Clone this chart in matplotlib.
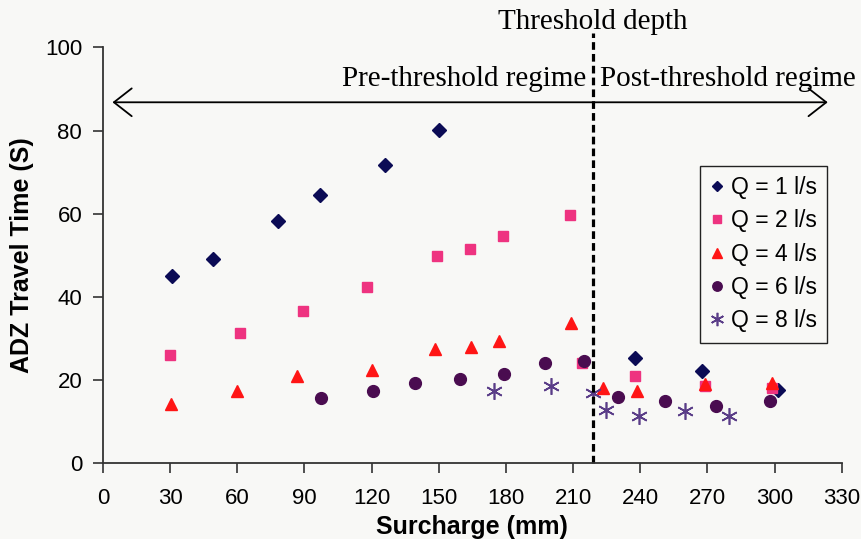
import matplotlib
matplotlib.use("Agg")
import matplotlib.pyplot as plt

# data
q1_x = [31, 49, 78, 97, 126, 150, 237.5, 267.5, 301.5]
q1_y = [45.1, 49.2, 58.2, 64.6, 71.7, 80.2, 25.3, 22.1, 17.5]

q2_x = [30, 61, 89.5, 118, 149, 164, 178.5, 208.5, 214, 237.5, 269, 299]
q2_y = [26.0, 31.2, 36.6, 42.3, 49.7, 51.6, 54.6, 59.6, 24.0, 20.9, 18.6, 18.1]

q4_x = [30.5, 60, 86.5, 120, 148.5, 164.5, 177, 209, 223.5, 238.5, 269, 299]
q4_y = [14.3, 17.4, 20.9, 22.3, 27.4, 27.9, 29.4, 33.7, 18.1, 17.3, 18.9, 19.3]

q6_x = [97.5, 120.5, 139.5, 159.5, 179, 197.5, 215, 230, 251, 274, 298]
q6_y = [15.7, 17.3, 19.3, 20.3, 21.5, 24.0, 24.5, 15.9, 14.8, 13.8, 15.0]

q8_x = [174.5, 200, 219, 224.5, 239.5, 260, 279.5]
q8_y = [17.3, 18.5, 16.8, 12.7, 11.2, 12.4, 11.2]

threshold = 219


def main():
    fig = plt.figure(figsize=(8.61, 5.39), dpi=100, facecolor="#f8f8f6")
    ax = fig.add_axes([0.1196, 0.141, 0.858, 0.771])
    ax.set_facecolor("#f8f8f6")

    ax.plot(q1_x, q1_y, "D", color="#0b0b55", ms=7, ls="none", label="Q = 1 l/s")
    ax.plot(q2_x, q2_y, "s", color="#ee3380", ms=7.5, ls="none", label="Q = 2 l/s")
    ax.plot(q4_x, q4_y, "^", color="#ff1515", ms=8.5, ls="none", label="Q = 4 l/s")
    ax.plot(q6_x, q6_y, "o", color="#4a0c50", ms=8.5, ls="none", label="Q = 6 l/s")
    ax.plot(q8_x, q8_y, marker=(6, 2, 0), color="#5a3d88", ms=12, mew=1.2,
            ls="none", label="Q = 8 l/s")

    ax.set_xlim(0, 330)
    ax.set_ylim(0, 100)
    ax.set_xticks(range(0, 331, 30))
    ax.set_yticks(range(0, 101, 20))
    for s in ["top", "right"]:
        ax.spines[s].set_visible(False)
    for s in ["left", "bottom"]:
        ax.spines[s].set_color("#333333")
        ax.spines[s].set_linewidth(1.3)
    ax.tick_params(direction="out", length=7, width=1.2, color="#333333",
                   labelsize=16, pad=8)
    ax.tick_params(axis="x", pad=11)
    for lab in ax.get_xticklabels() + ax.get_yticklabels():
        lab.set_family("Liberation Sans")

    ax.set_xlabel("Surcharge (mm)", fontsize=18, fontweight="bold",
                  family="Liberation Sans", labelpad=4)
    ax.set_ylabel("ADZ Travel Time (S)", fontsize=18, fontweight="bold",
                  family="Liberation Sans", labelpad=8)

    # threshold line, arrow and annotations
    ax.plot([threshold, threshold], [0, 103.5], color="black", lw=2.3,
            ls=(0, (2.4, 1.3)), clip_on=False)
    ax.annotate("", xy=(3, 86.8), xytext=(325, 86.8),
                arrowprops=dict(arrowstyle="<->,head_length=0.32,head_width=0.25",
                                lw=1.3, color="black", mutation_scale=40),
                annotation_clip=False)
    ax.text(threshold, 106.2, "Threshold depth", fontsize=21,
            family="Liberation Serif", ha="center", va="center")
    ax.text(threshold - 3, 92.5, "Pre-threshold regime", fontsize=21,
            family="Liberation Serif", ha="right", va="center")
    ax.text(threshold + 3, 92.5, "Post-threshold regime", fontsize=21,
            family="Liberation Serif", ha="left", va="center")

    leg = ax.legend(loc="upper right", bbox_to_anchor=(0.98, 0.715),
                    borderaxespad=0, prop={"family": "Liberation Sans", "size": 16.5},
                    handlelength=0.6, handletextpad=0.3, labelspacing=0.45,
                    fancybox=False, edgecolor="#222222", framealpha=1,
                    facecolor="#f8f8f6", markerscale=0.8, borderpad=0.45)
    leg.get_frame().set_linewidth(1.0)

    fig.savefig("out.png", dpi=100, facecolor=fig.get_facecolor())


if __name__ == "__main__":
    main()
